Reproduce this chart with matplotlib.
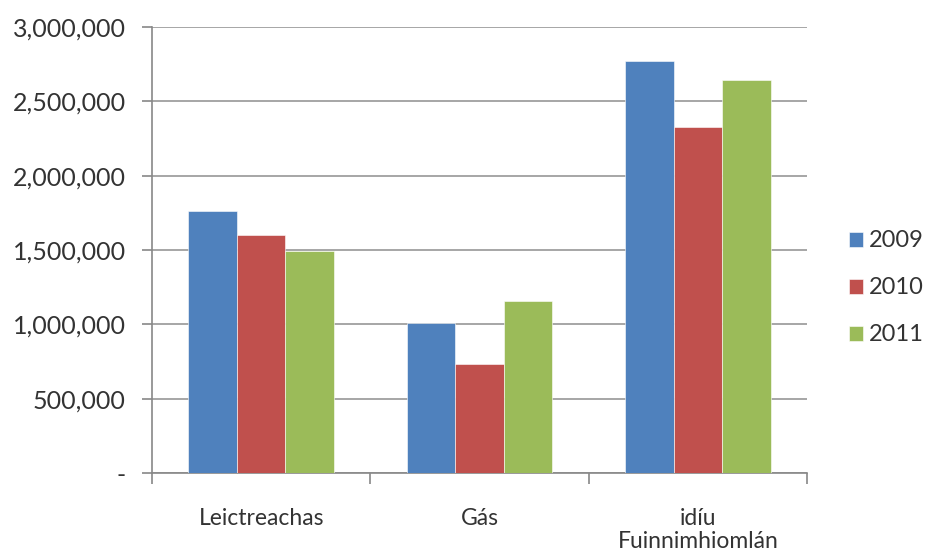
import numpy as np
import matplotlib.pyplot as plt
from matplotlib.ticker import FuncFormatter

categories = ['Leictreachas', 'Gás', 'idíu\nFuinnimhiomlán']
years = ['2009', '2010', '2011']
values_2009 = [1765000, 1010000, 2770000]
values_2010 = [1600000, 730000, 2330000]
values_2011 = [1490000, 1155000, 2645000]
colors = ['#4f81bd', '#c0504d', '#9bbb59']

plt.rcParams['font.family'] = ['Lato', 'DejaVu Sans']

fig = plt.figure(figsize=(9.29, 5.52), dpi=100)
ax = fig.add_axes([152 / 929, 1 - 473 / 552, (807 - 152) / 929, (473 - 27) / 552])

x = np.arange(len(categories))
w = 1 / 4.5
for i, (vals, yr) in enumerate(zip([values_2009, values_2010, values_2011], years)):
    ax.bar(x + (i - 1) * w, vals, width=w, color=colors[i], label=yr,
           edgecolor='white', linewidth=0.4, zorder=3)

ax.set_xlim(-0.5, len(categories) - 0.5)
ax.set_ylim(0, 3000000)
ax.set_yticks(np.arange(0, 3000001, 500000))
ax.yaxis.set_major_formatter(FuncFormatter(lambda v, p: '-' if v == 0 else f'{int(v):,}'))
ax.grid(axis='y', color='#a6a6a6', linewidth=1.4, zorder=0)

# category ticks at boundaries
ax.set_xticks(np.arange(-0.5, len(categories), 1.0))
ax.set_xticklabels([])
ax.set_xticks(x, minor=True)
ax.set_xticklabels(categories, minor=True, fontsize=16.5, color='#333333',
                   linespacing=1.15)
ax.tick_params(axis='x', which='minor', length=0, pad=25)
ax.tick_params(axis='x', which='major', length=8, color='#888888', width=1.2)
ax.tick_params(axis='y', length=7, color='#888888', width=1.2, labelsize=18,
               labelcolor='#333333', pad=12)

for s in ['top', 'right']:
    ax.spines[s].set_visible(False)
for s in ['left', 'bottom']:
    ax.spines[s].set_color('#888888')
    ax.spines[s].set_linewidth(1.2)

ax.legend(loc='center left', bbox_to_anchor=(1.032, 0.415), frameon=False,
          fontsize=17, handlelength=0.6, handleheight=0.6, labelspacing=1.1,
          handletextpad=0.25, labelcolor='#333333')

fig.savefig('out.png', dpi=100)
